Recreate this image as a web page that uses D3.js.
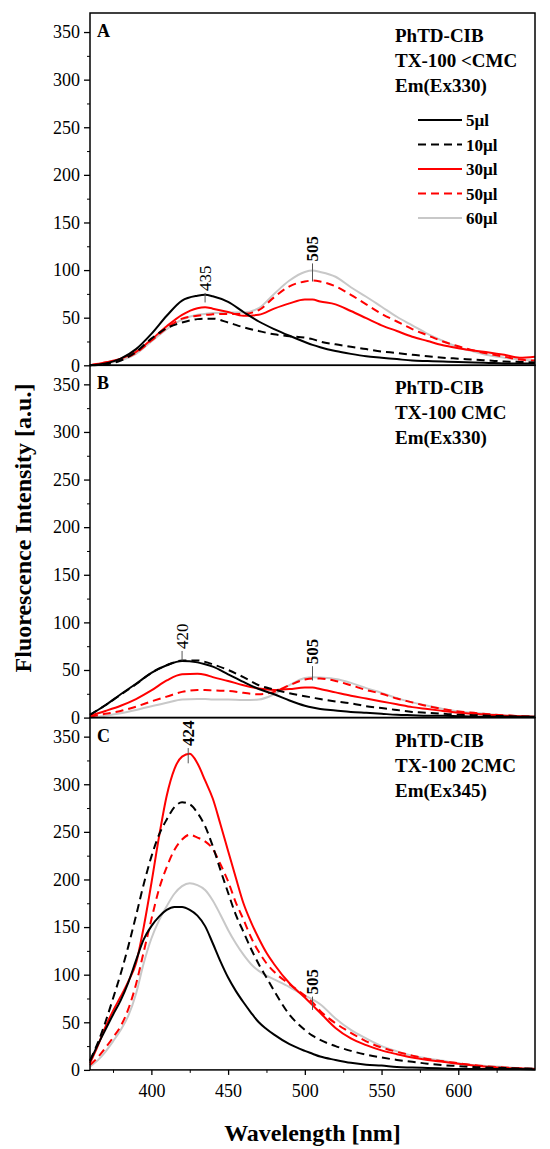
<!DOCTYPE html>
<html>
<head>
<meta charset="utf-8">
<script src="https://cdn.jsdelivr.net/npm/d3@7"></script>
<style>
  body { margin: 0; background: #fff; }
  svg { display: block; }
  svg text { font-family: "Liberation Serif", "Times New Roman", serif; }
</style>
</head>
<body>
<div id="chart"></div>
<script>
// wavelength grids [nm]
const wlAB = [360, 370, 380, 390, 400, 410, 420, 430, 435, 440, 450, 460, 470, 480, 490, 500, 505, 510, 520, 530, 540, 550, 560, 570, 580, 590, 600, 610, 620, 630, 640, 650];
const wlC = [360, 365, 370, 375, 380, 385, 390, 395, 400, 405, 410, 415, 420, 425, 430, 435, 440, 445, 450, 455, 460, 465, 470, 475, 480, 490, 500, 505, 510, 520, 530, 540, 550, 560, 570, 580, 590, 600, 610, 620, 630, 640, 650];

const seriesNames = ["5µl", "10µl", "30µl", "50µl", "60µl"];

// panel A: TX-100 <CMC, Ex330
const a5  = [0, 2, 7, 17, 33, 52, 68, 73, 74, 72.5, 66.5, 56, 46, 38, 31, 24.5, 21.5, 19, 15, 12, 9.5, 8, 6.5, 5, 4.5, 4, 3.5, 3, 2.5, 2, 2, 2];
const a10 = [0, 1, 5, 14, 28, 39, 45, 48.5, 49, 49, 45, 40, 36, 32.5, 30.5, 29, 27.5, 25, 22, 19.5, 17, 14.5, 13, 11, 9.5, 8, 7, 6, 5, 4, 3.5, 3];
const a30 = [0, 3, 7, 14, 27, 41, 53, 60, 61, 59.5, 56, 52, 53, 59.5, 65, 69, 69, 67, 64, 57, 49.5, 42, 36, 30, 25.5, 21, 18, 15.5, 13.5, 11, 8, 9];
const a50 = [0, 3, 6, 13, 26, 39, 49, 52, 53, 53.5, 54, 54, 58, 71.5, 83, 88, 89, 88, 83, 74, 64, 54, 46, 38, 31.5, 25, 20, 15.5, 12, 9, 6, 5];
const a60 = [0, 2, 5, 12, 25, 38, 48, 53, 54, 55, 55.5, 55.5, 60, 75, 89, 98, 99.5, 98, 93, 82, 72, 61.5, 51, 42, 33, 25.5, 19, 14.5, 10.5, 8, 6, 5];

// panel B: TX-100 CMC, Ex330
const b5  = [3, 13, 24.5, 35.5, 47, 55, 59.5, 58, 56, 53.5, 45.5, 37.5, 30, 24.5, 18, 12.5, 10.5, 9, 7.5, 6, 5, 4, 3, 2.5, 2, 2, 1.5, 1, 1, 1, 1, 1];
const b10 = [3, 13, 24, 35, 47, 55, 60, 60, 58.5, 56, 50, 42.5, 34, 29.5, 25.5, 22.5, 21, 19.5, 17, 15, 12, 10, 8, 6, 5, 4, 3, 2.5, 2, 1.5, 1, 1];
const b30 = [2, 7, 12.5, 19.5, 28.5, 39, 45.5, 46, 45, 42.5, 38.5, 34, 30.5, 29, 30, 31.5, 31.5, 30, 26.5, 23, 20, 17, 14, 11, 9, 7, 5, 4, 3, 2, 1.5, 1];
const b50 = [1, 4, 7, 11.5, 17, 22, 27, 29, 29, 28.5, 28, 26, 24.5, 27, 34, 40, 41, 41, 38.5, 34, 29, 25, 20, 16, 12, 9, 6.5, 5, 3.5, 2.5, 1.5, 1];
const b60 = [0, 2, 4.5, 8, 12, 15.5, 19, 19.5, 19.5, 19, 19, 18.5, 19, 24.5, 34, 41.5, 42.5, 42, 40.5, 36.5, 31, 26, 20.5, 16, 12.5, 9, 6.5, 5, 3.5, 2.5, 1.5, 1];

// panel C: TX-100 2CMC, Ex345
const c5  = [9, 26, 42, 58, 73, 92, 115, 137, 151, 161, 168, 171, 171, 168, 162, 151, 133, 114, 97, 83, 71, 60, 50, 43, 37, 27, 20, 17, 14, 10.5, 7.5, 5.5, 4.5, 3, 2.5, 2, 1.5, 1, 1, 1, 1, 1, 0.5];
const c10 = [10, 28, 50, 75, 101, 130, 162, 195, 224, 247, 263, 276, 281, 279, 270, 256, 235, 210, 186, 163, 145, 127, 111, 97, 83, 58, 42, 36, 31.5, 25, 20, 16, 13, 10.5, 8.5, 6.5, 5, 4, 3, 2.5, 2, 1.5, 1];
const c30 = [7, 25, 45, 62, 77, 93, 112, 150, 196, 245, 288, 316, 329, 332, 322, 304, 285, 258, 230, 202, 175, 155, 138, 123, 111, 91, 76, 68, 60, 44, 33, 26, 20.5, 16.5, 13, 10.5, 8.5, 6.5, 4.5, 3, 2, 1.5, 1];
const c50 = [5, 13, 23, 34, 46, 64, 90, 124, 158, 190, 213, 231, 242, 247, 244, 240, 232, 216, 198, 176, 158, 139, 124, 112, 103, 90, 78, 71, 62, 49, 39, 30, 23.5, 19, 15, 11.5, 9, 7, 5, 3.5, 2.5, 1.5, 1];
const c60 = [3.5, 10, 19, 30, 42, 57, 80, 112, 138, 157, 172, 185, 193, 196, 194, 189, 178, 163, 147, 133, 121, 111, 104, 99, 95, 87, 78, 74, 69, 54, 42, 33, 25, 19.5, 15, 12, 9.5, 7, 5, 4, 3, 2, 1.5];

// peak markers: wavelength, tick from/to intensity
const peaksA = [{ nm: 435, lo: 66, hi: 76, bold: false }, { nm: 505, lo: 88, hi: 107, bold: true }];
const peaksB = [{ nm: 420, lo: 60, hi: 70, bold: false }, { nm: 505, lo: 39, hi: 54, bold: true }];
const peaksC = [{ nm: 424, lo: 322, hi: 338, bold: true }, { nm: 505, lo: 63, hi: 77, bold: true }];

const labelsA = ["PhTD-CIB", "TX-100 <CMC", "Em(Ex330)"];
const labelsB = ["PhTD-CIB", "TX-100 CMC", "Em(Ex330)"];
const labelsC = ["PhTD-CIB", "TX-100 2CMC", "Em(Ex345)"];

const yMajor = [0, 50, 100, 150, 200, 250, 300, 350];
const yMinor = [25, 75, 125, 175, 225, 275, 325];
const xMajor = [400, 450, 500, 550, 600];
const xMinor = [375, 425, 475, 525, 575, 625];

const panels = [
    { letter: "A", wl: wlAB, values: [a5, a10, a30, a50, a60], peaks: peaksA, labels: labelsA, legend: true },
    { letter: "B", wl: wlAB, values: [b5, b10, b30, b50, b60], peaks: peaksB, labels: labelsB, legend: false },
    { letter: "C", wl: wlC, values: [c5, c10, c30, c50, c60], peaks: peaksC, labels: labelsC, legend: false }
];

const colors = ["#000000", "#000000", "#ff0000", "#ff0000", "#c8c8c8"];
const dashes = [null, "8,5", null, "8,5", null];
// draw grey first, black solid last
const drawOrder = [4, 3, 2, 1, 0];

const serif = '"Liberation Serif", "Times New Roman", serif';
const width = 550, height = 1149;
const plotLeft = 90, plotRight = 535, plotTop = 13, panelH = 352.3;

const svg = d3.select("#chart").append("svg")
    .attr("width", width)
    .attr("height", height)
    .attr("font-family", serif);

const x = d3.scaleLinear().domain([360, 650]).range([plotLeft, plotRight]);

panels.forEach((p, i) => {
    const y0 = plotTop + i * panelH;
    const y1 = y0 + panelH;
    const y = d3.scaleLinear().domain([0, 370]).range([y1, y0]);
    const g = svg.append("g");

    // curves
    const line = d3.line()
        .x(d => x(d[0]))
        .y(d => y(d[1]))
        .curve(d3.curveMonotoneX);

    drawOrder.forEach(s => {
        g.append("path")
            .datum(p.wl.map((w, k) => [w, p.values[s][k]]))
            .attr("d", line)
            .attr("fill", "none")
            .attr("stroke", colors[s])
            .attr("stroke-width", 2)
            .attr("stroke-dasharray", dashes[s]);
    });

    // y axis
    g.append("g")
        .attr("transform", `translate(${plotLeft},0)`)
        .call(d3.axisLeft(y).tickValues(yMinor).tickSize(3).tickFormat(""))
        .call(a => a.select(".domain").remove());
    const ya = g.append("g")
        .attr("transform", `translate(${plotLeft},0)`)
        .call(d3.axisLeft(y).tickValues(yMajor).tickSize(6).tickPadding(4));
    ya.attr("font-family", serif).attr("font-size", 18);
    ya.select(".domain").remove();
    ya.selectAll("line").attr("stroke-width", 1.3);
    ya.selectAll("text").attr("fill", "#000");

    // frame
    g.append("rect")
        .attr("x", plotLeft).attr("y", y0)
        .attr("width", plotRight - plotLeft).attr("height", panelH)
        .attr("fill", "none")
        .attr("stroke", "#000")
        .attr("stroke-width", 1.5);

    // panel letter
    g.append("text")
        .attr("x", plotLeft + 7).attr("y", y0 + 24)
        .style("font-size", "18px").style("font-weight", "bold")
        .text(p.letter);

    // description
    p.labels.forEach((t, k) => {
        g.append("text")
            .attr("x", 395).attr("y", y0 + 29 + k * 25)
            .style("font-size", "19px").style("font-weight", "bold")
            .text(t);
    });

    // peak markers
    p.peaks.forEach(pk => {
        g.append("line")
            .attr("x1", x(pk.nm)).attr("x2", x(pk.nm))
            .attr("y1", y(pk.lo)).attr("y2", y(pk.hi))
            .attr("stroke", "#555").attr("stroke-width", 1);
        g.append("text")
            .attr("transform", `translate(${x(pk.nm)},${y(pk.hi) - 2}) rotate(-90)`)
            .attr("dy", "0.35em")
            .style("font-size", "17px")
            .style("font-weight", pk.bold ? "bold" : "normal")
            .text(pk.nm);
    });

    // legend
    if (p.legend) {
        seriesNames.forEach((name, s) => {
            const ly = y0 + 107 + s * 24.5;
            g.append("line")
                .attr("x1", 418).attr("x2", 462)
                .attr("y1", ly).attr("y2", ly)
                .attr("stroke", colors[s])
                .attr("stroke-width", 2)
                .attr("stroke-dasharray", dashes[s]);
            g.append("text")
                .attr("x", 466).attr("y", ly + 6)
                .style("font-size", "17px").style("font-weight", "bold")
                .text(name);
        });
    }

    // x axis only under the last panel
    if (i === panels.length - 1) {
        g.append("g")
            .attr("transform", `translate(0,${y1})`)
            .call(d3.axisBottom(x).tickValues(xMinor).tickSize(3).tickFormat(""))
            .call(a => a.select(".domain").remove());
        const xa = g.append("g")
            .attr("transform", `translate(0,${y1})`)
            .call(d3.axisBottom(x).tickValues(xMajor).tickSize(5).tickPadding(9));
        xa.attr("font-family", serif).attr("font-size", 18);
        xa.select(".domain").remove();
        xa.selectAll("line").attr("stroke-width", 1.3);
        xa.selectAll("text").attr("fill", "#000");
    }
});

// axis titles
svg.append("text")
    .attr("x", (plotLeft + plotRight) / 2).attr("y", 1141)
    .attr("text-anchor", "middle")
    .style("font-size", "24px").style("font-weight", "bold")
    .text("Wavelength [nm]");

svg.append("text")
    .attr("transform", "translate(31,528) rotate(-90)")
    .attr("text-anchor", "middle")
    .style("font-size", "24px").style("font-weight", "bold")
    .text("Fluorescence Intensity [a.u.]");
</script>
</body>
</html>
